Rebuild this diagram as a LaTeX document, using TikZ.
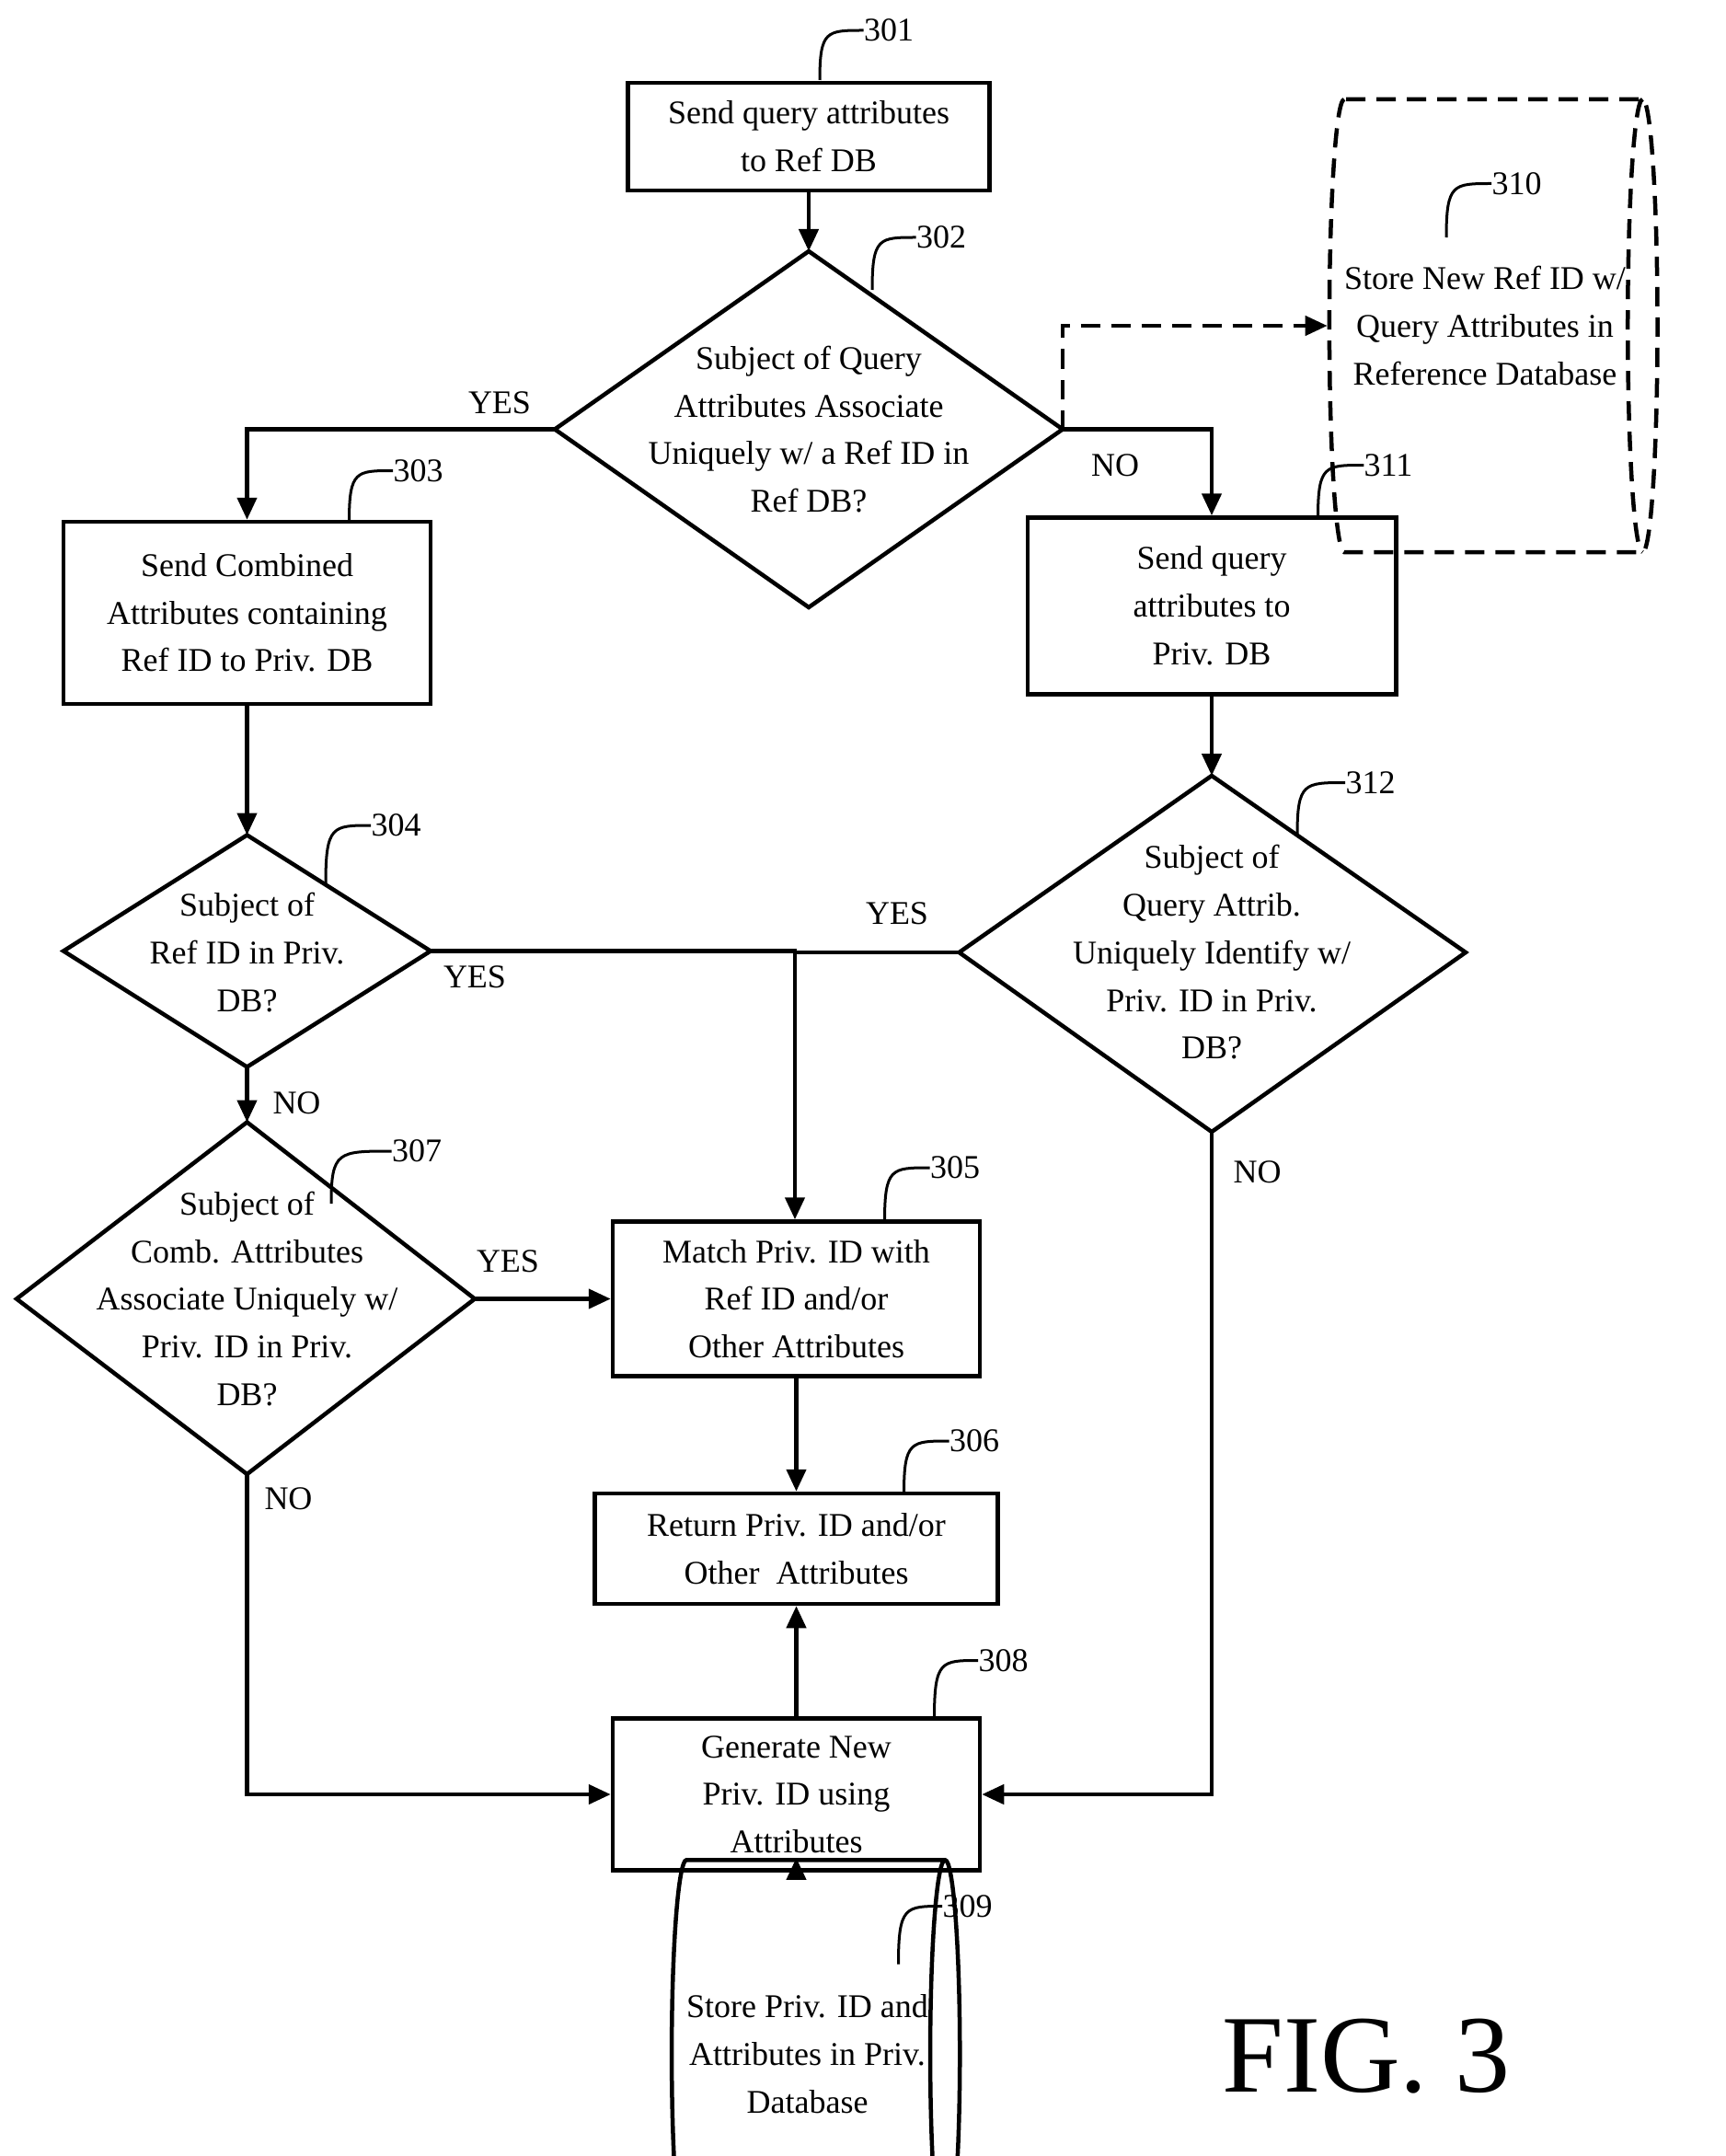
\documentclass[tikz,border=0pt]{standalone}
\usepackage{fontspec}
\setmainfont{Liberation Serif}
\usetikzlibrary{shapes.geometric,arrows.meta}
\begin{document}
\begin{tikzpicture}[x=1pt,y=-1pt,
  every node/.style={font=\fontsize{24}{34.5}\selectfont, align=center, inner sep=0pt},
  box/.style={draw, line width=3pt, minimum width=#1, inner sep=0pt},
  dia/.style={draw, line width=3pt},
  ln/.style={line width=3pt},
  arr/.style={line width=3pt, -{Triangle[length=16pt,width=14pt]}},
  lead/.style={line width=2pt},
  cyl/.style={draw, cylinder, line width=3pt, aspect=0.25}
]
\useasboundingbox (0,0) rectangle (1250,1562);

% boxes
\node[box=262pt, minimum height=78pt] (b301) at (586,99) {Send query attributes\\to Ref DB};
\node[box=266pt, minimum height=132pt] (b303) at (179,444) {Send Combined\\Attributes containing\\Ref ID to Priv. DB};
\node[box=267pt, minimum height=128pt] (b311) at (878,439) {Send query\\attributes to\\Priv. DB};
\node[box=266pt, minimum height=112pt] (b305) at (577,941) {Match Priv. ID with\\Ref ID and/or\\Other Attributes};
\node[box=292pt, minimum height=80pt] (b306) at (577,1122) {Return Priv. ID and/or\\Other\ \ Attributes};
\node[box=266pt, minimum height=110pt] (b308) at (577,1300) {Generate New\\Priv. ID using\\Attributes};

% diamonds
\draw[dia] (586,182) coordinate (d302t) -- (770,311) coordinate (d302r) -- (586,440) coordinate (d302b) -- (402,311) coordinate (d302l) -- cycle;
\node (t302) at (586,311) {Subject of Query\\Attributes Associate\\Uniquely w/ a Ref ID in\\Ref DB?};
\draw[dia] (878,562) coordinate (d312t) -- (1062,690) coordinate (d312r) -- (878,820) coordinate (d312b) -- (695,690) coordinate (d312l) -- cycle;
\node (t312) at (878,690) {Subject of\\Query Attrib.\\Uniquely Identify w/\\Priv. ID in Priv.\\DB?};
\draw[dia] (179,605) coordinate (d304t) -- (312,689) coordinate (d304r) -- (179,773) coordinate (d304b) -- (46,689) coordinate (d304l) -- cycle;
\node (t304) at (179,690) {Subject of\\Ref ID in Priv.\\DB?};
\draw[dia] (179,813) coordinate (d307t) -- (344,941) coordinate (d307r) -- (179,1068) coordinate (d307b) -- (12,941) coordinate (d307l) -- cycle;
\node (t307) at (179,941) {Subject of\\Comb. Attributes\\Associate Uniquely w/\\Priv. ID in Priv.\\DB?};

% cylinders
\node[cyl, dashed, dash pattern=on 14pt off 8pt, minimum width=328pt, minimum height=130pt] (c310) at (1076,236) {Store New Ref ID w/\\Query Attributes in\\Reference Database};
\node[cyl, minimum width=281pt, minimum height=130pt] (c309) at (585,1488) {Store Priv. ID and\\Attributes in Priv.\\Database};

% connectors
\draw[arr] (b301) -- (d302t);
\draw[arr, dashed, dash pattern=on 14pt off 8pt] (d302r) -- (770,236) -- (c310.west);
\draw[arr] (d302l) -- (179,311) -- (b303.north);
\draw[arr] (d302r) -- (878,311) -- (b311.north);
\draw[arr] (b303) -- (d304t);
\draw[arr] (b311) -- (d312t);
\draw[arr] (d304r) -- (576,689) -- (b305.north -| 576,0);
\draw[ln] (d312l) -- (576,690);
\draw[arr] (d304b) -- (d307t);
\draw[arr] (d307r) -- (b305.west);
\draw[arr] (b305) -- (b306);
\draw[arr] (b308) -- (b306);
\draw[arr] (d307b) -- (179,1300) -- (b308.west);
\draw[arr] (d312b) -- (878,1300) -- (b308.east);
\draw[arr] (b308) -- (b308.south |- c309.north);

% branch labels
\node (y1) at (362,292) {YES};
\node (n1) at (808,337) {NO};
\node (y2) at (344,708) {YES};
\node (y3) at (650,662) {YES};
\node (n2) at (215,799) {NO};
\node (y4) at (368,914) {YES};
\node (n3) at (209,1086) {NO};
\node (n4) at (911,849) {NO};

% reference numerals with leaders
\foreach \n/\sx/\sy/\lx/\ly in {301/594/58/644/22, 302/632/210/682/172, 310/1048/172/1099/133,
  303/253/378/303/341, 311/955/375/1006/337, 312/940/605/993/567, 304/236/640/287/598,
  307/240/872/302/834, 305/641/885/692/846, 306/655/1082/706/1044, 308/677/1245/727/1203,
  309/651/1423/701/1381}{
  \node (r\n) at (\lx,\ly) {\n};
  \draw[lead] (\sx,\sy) .. controls (\sx,\ly) and (\sx+5,\ly) .. (r\n.west);
}

\node[font=\fontsize{80}{80}\selectfont] (fig) at (990,1490) {FIG. 3};
\end{tikzpicture}
\end{document}
